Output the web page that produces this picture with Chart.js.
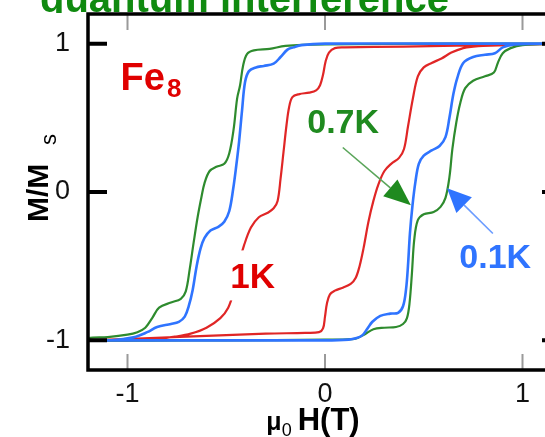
<!DOCTYPE html>
<html>
<head>
<meta charset="utf-8">
<script src="https://cdn.jsdelivr.net/npm/chart.js@4.4.0/dist/chart.umd.min.js"></script>
<style>
  html, body { margin: 0; padding: 0; background: #fff; overflow: hidden; }
  #wrap { width: 545px; height: 437px; overflow: hidden; }
  canvas { display: block; }
</style>
</head>
<body>
<div id="wrap"><canvas id="loopChart" width="565" height="437"></canvas></div>
<script>
// Fe8 hysteresis loops: field mu0H (T) vs normalised magnetisation M/Ms
const tickValues = [-1, 0, 1];

// 0.1 K (blue)
const blueDownH = [1.2, 0.6, 0.0, -0.12, -0.16, -0.19, -0.225, -0.26, -0.31, -0.35, -0.385, -0.405, -0.42, -0.435, -0.45, -0.465, -0.485, -0.51, -0.54, -0.58, -0.61, -0.63, -0.65, -0.67, -0.69, -0.71, -0.74, -0.78, -0.85, -0.9, -0.97, -1.08, -1.2];
const blueDownM = [1.0, 1.0, 1.0, 0.99, 0.975, 0.96, 0.91, 0.865, 0.85, 0.84, 0.815, 0.74, 0.55, 0.34, 0.17, 0.02, -0.13, -0.2, -0.235, -0.26, -0.31, -0.38, -0.5, -0.66, -0.77, -0.84, -0.875, -0.89, -0.91, -0.945, -0.98, -1.0, -1.0];
const blueUpH = [-1.2, -0.5, 0.0, 0.12, 0.16, 0.19, 0.215, 0.24, 0.28, 0.33, 0.37, 0.395, 0.41, 0.42, 0.43, 0.443, 0.458, 0.475, 0.5, 0.54, 0.58, 0.61, 0.63, 0.65, 0.67, 0.70, 0.75, 0.81, 0.86, 0.9, 0.96, 1.2];
const blueUpM = [-1.0, -1.0, -1.0, -0.995, -0.985, -0.965, -0.92, -0.875, -0.835, -0.82, -0.815, -0.77, -0.66, -0.5, -0.28, -0.09, 0.07, 0.19, 0.245, 0.28, 0.31, 0.37, 0.5, 0.66, 0.77, 0.87, 0.91, 0.925, 0.935, 0.975, 0.995, 1.0];

// 0.7 K (green)
const greenDownH = [1.2, 0.6, 0.0, -0.2, -0.28, -0.36, -0.395, -0.415, -0.43, -0.445, -0.463, -0.485, -0.51, -0.55, -0.585, -0.61, -0.625, -0.645, -0.665, -0.685, -0.705, -0.73, -0.78, -0.84, -0.875, -0.91, -0.95, -1.0, -1.1, -1.2];
const greenDownM = [1.0, 1.0, 0.995, 0.985, 0.965, 0.955, 0.93, 0.85, 0.72, 0.63, 0.42, 0.26, 0.19, 0.17, 0.14, 0.06, -0.03, -0.17, -0.34, -0.52, -0.67, -0.72, -0.745, -0.78, -0.85, -0.915, -0.945, -0.962, -0.978, -0.985];
const greenUpH = [-1.2, -0.5, 0.0, 0.15, 0.2, 0.245, 0.3, 0.36, 0.395, 0.415, 0.428, 0.44, 0.452, 0.47, 0.5, 0.55, 0.585, 0.61, 0.63, 0.645, 0.665, 0.685, 0.71, 0.75, 0.81, 0.855, 0.875, 0.9, 0.94, 1.0, 1.2];
const greenUpM = [-1.0, -1.0, -0.995, -0.99, -0.96, -0.925, -0.915, -0.91, -0.89, -0.85, -0.75, -0.55, -0.32, -0.19, -0.15, -0.135, -0.1, -0.04, 0.1, 0.29, 0.47, 0.6, 0.7, 0.75, 0.78, 0.805, 0.87, 0.935, 0.97, 0.99, 1.0];

// 1 K (red)
const redDownH = [1.2, 0.8, 0.4, 0.1, 0.05, 0.02, 0.003, -0.01, -0.025, -0.045, -0.08, -0.13, -0.165, -0.182, -0.195, -0.21, -0.225, -0.24, -0.26, -0.29, -0.335, -0.375, -0.41, -0.44, -0.465, -0.49, -0.53, -0.6, -0.68, -0.76, -0.85, -1.0, -1.2];
const redDownM = [1.0, 0.99, 0.98, 0.975, 0.97, 0.94, 0.88, 0.79, 0.72, 0.685, 0.67, 0.66, 0.64, 0.57, 0.45, 0.27, 0.09, -0.06, -0.11, -0.14, -0.17, -0.24, -0.36, -0.5, -0.68, -0.78, -0.85, -0.915, -0.955, -0.975, -0.99, -1.0, -1.0];
const redUpH = [-1.2, -0.7, -0.3, -0.1, -0.03, -0.01, 0.0, 0.01, 0.025, 0.05, 0.09, 0.13, 0.155, 0.175, 0.195, 0.22, 0.245, 0.27, 0.3, 0.335, 0.375, 0.4, 0.42, 0.445, 0.47, 0.5, 0.54, 0.59, 0.64, 0.7, 0.75, 0.8, 1.2];
const redUpM = [-1.0, -0.975, -0.955, -0.95, -0.945, -0.92, -0.84, -0.75, -0.69, -0.665, -0.645, -0.62, -0.58, -0.5, -0.38, -0.2, -0.06, 0.05, 0.14, 0.19, 0.23, 0.29, 0.44, 0.63, 0.78, 0.84, 0.87, 0.9, 0.94, 0.97, 0.98, 0.985, 1.0];

const BLUE = '#2f74ff';
const GREEN = '#2e8b2e';
const RED = '#e02626';
const FONT = "'Liberation Sans', Arial, sans-serif";

function loop(downH, downM, upH, upM) {
    const pts = [];
    downH.forEach((h, i) => pts.push({ x: h, y: downM[i] }));
    upH.forEach((h, i) => pts.push({ x: h, y: upM[i] }));
    return pts;
}

// labels and arrows placed in data units
const annotations = [
    { text: 'Fe', sub: '8', x: -1.035, y: 0.69, color: '#e00000', size: 38 },
    { text: '1K', x: -0.48, y: -0.65, color: '#e00000', size: 35, blank: true },
    { text: '0.7K', x: -0.09, y: 0.395, color: '#1f8a1f', size: 34 },
    { text: '0.1K', x: 0.68, y: -0.51, color: '#2f74ff', size: 34 }
];
const arrows = [
    { from: [0.09, 0.30], to: [0.435, -0.09], color: '#1f8a1f', line: '#5aa55a', head: 27, width: 22 },
    { from: [0.85, -0.28], to: [0.618, 0.025], color: '#2f74ff', line: '#6b9cff', head: 24, width: 22 }
];

const framePlugin = {
    id: 'frame',
    afterDatasetsDraw(chart) {
        const ctx = chart.ctx;
        const { left, right, top, bottom } = chart.chartArea;
        const xs = chart.scales.x, ys = chart.scales.y;
        ctx.save();
        // grey ticks top and bottom
        ctx.strokeStyle = '#9a9a9a';
        ctx.lineWidth = 2;
        tickValues.forEach(v => {
            const px = xs.getPixelForValue(v);
            ctx.beginPath();
            ctx.moveTo(px, bottom); ctx.lineTo(px, bottom - 16);
            ctx.moveTo(px, top); ctx.lineTo(px, top + 16);
            ctx.stroke();
        });
        // black ticks left and right
        ctx.strokeStyle = '#000';
        ctx.lineWidth = 4;
        tickValues.forEach(v => {
            const py = ys.getPixelForValue(v);
            ctx.beginPath();
            ctx.moveTo(left, py); ctx.lineTo(left + 19, py);
            ctx.moveTo(right - 20, py); ctx.lineTo(right, py);
            ctx.stroke();
        });
        // frame
        ctx.lineWidth = 3.5;
        ctx.beginPath();
        ctx.moveTo(right, top); ctx.lineTo(left, top);
        ctx.lineTo(left, bottom); ctx.lineTo(right, bottom);
        ctx.stroke();

        // annotations
        annotations.forEach(a => {
            const px = xs.getPixelForValue(a.x);
            const py = ys.getPixelForValue(a.y);
            ctx.font = 'bold ' + a.size + 'px ' + FONT;
            const w = ctx.measureText(a.text).width;
            if (a.blank) {
                ctx.fillStyle = '#fff';
                ctx.fillRect(px - 4, py - a.size - 3, w + 8, a.size + 15);
            }
            ctx.fillStyle = a.color;
            ctx.textBaseline = 'alphabetic';
            ctx.textAlign = 'left';
            ctx.fillText(a.text, px, py);
            if (a.sub) {
                ctx.font = 'bold ' + Math.round(a.size * 0.68) + 'px ' + FONT;
                ctx.fillText(a.sub, px + w + 2, py + 7);
            }
        });

        // arrows
        arrows.forEach(a => {
            const x0 = xs.getPixelForValue(a.from[0]), y0 = ys.getPixelForValue(a.from[1]);
            const x1 = xs.getPixelForValue(a.to[0]), y1 = ys.getPixelForValue(a.to[1]);
            const ang = Math.atan2(y1 - y0, x1 - x0);
            const bx = x1 - a.head * Math.cos(ang), by = y1 - a.head * Math.sin(ang);
            ctx.strokeStyle = a.line;
            ctx.lineWidth = 1.6;
            ctx.beginPath();
            ctx.moveTo(x0, y0); ctx.lineTo(bx, by);
            ctx.stroke();
            const nx = -Math.sin(ang) * a.width / 2, ny = Math.cos(ang) * a.width / 2;
            ctx.fillStyle = a.color;
            ctx.beginPath();
            ctx.moveTo(x1, y1);
            ctx.lineTo(bx + nx, by + ny);
            ctx.lineTo(bx - nx, by - ny);
            ctx.closePath();
            ctx.fill();
        });
        ctx.restore();
    },
    afterDraw(chart) {
        const ctx = chart.ctx;
        const { left, bottom, top } = chart.chartArea;
        const xs = chart.scales.x, ys = chart.scales.y;
        ctx.save();
        // cropped heading at the very top
        ctx.save();
        ctx.beginPath();
        ctx.rect(0, 0, chart.width, top - 1);
        ctx.clip();
        ctx.fillStyle = '#108a10';
        ctx.font = 'bold 40px ' + FONT;
        ctx.textBaseline = 'alphabetic';
        ctx.fillText('quantum interference', 40, 12);
        ctx.restore();

        // x title: mu0 H(T)
        ctx.fillStyle = '#000';
        ctx.textBaseline = 'alphabetic';
        const cx = xs.getPixelForValue(0) - 12;
        const base = bottom + 60;
        ctx.font = 'bold 31px ' + FONT;
        const wHT = ctx.measureText('H(T)').width;
        ctx.font = 'bold 25px ' + FONT;
        const wMu = ctx.measureText('\u03bc').width;
        ctx.font = '18px ' + FONT;
        const w0 = ctx.measureText('0').width;
        let x = cx - (wMu + w0 + 6 + wHT) / 2;
        ctx.font = 'bold 25px ' + FONT;
        ctx.fillText('\u03bc', x, base);
        x += wMu;
        ctx.font = '18px ' + FONT;
        ctx.fillText('0', x, base + 6);
        x += w0 + 6;
        ctx.font = 'bold 31px ' + FONT;
        ctx.fillText('H(T)', x, base);

        // y title: M/Ms rotated
        ctx.save();
        ctx.translate(left - 40, ys.getPixelForValue(0) + 30);
        ctx.rotate(-Math.PI / 2);
        ctx.font = 'bold 30px ' + FONT;
        ctx.fillText('M/M', 0, 0);
        ctx.font = '22px ' + FONT;
        ctx.fillText('s', 77, 8);
        ctx.restore();
        ctx.restore();
    }
};

const tickFont = { family: "'Liberation Sans Narrow', 'Liberation Sans', Arial, sans-serif", size: 27 };

new Chart(document.getElementById('loopChart'), {
    type: 'scatter',
    data: {
        datasets: [
            { label: '0.1K', data: loop(blueDownH, blueDownM, blueUpH, blueUpM), borderColor: BLUE, borderWidth: 2.6 },
            { label: '0.7K', data: loop(greenDownH, greenDownM, greenUpH, greenUpM), borderColor: GREEN, borderWidth: 2.2 },
            { label: '1K', data: loop(redDownH, redDownM, redUpH, redUpM), borderColor: RED, borderWidth: 2.2 }
        ]
    },
    options: {
        responsive: false,
        animation: false,
        events: [],
        showLine: true,
        layout: { padding: { top: 14, right: 3, left: 0, bottom: 0 } },
        elements: {
            point: { radius: 0 },
            line: { tension: 0.35, fill: false }
        },
        plugins: { legend: { display: false }, tooltip: { enabled: false } },
        scales: {
            x: {
                type: 'linear', min: -1.2, max: 1.2,
                afterBuildTicks: s => { s.ticks = tickValues.map(v => ({ value: v })); },
                afterFit: s => { s.height = 67; s.paddingLeft = 0; s.paddingRight = 0; },
                grid: { display: false, drawTicks: false },
                border: { display: false },
                ticks: { padding: 8, color: '#111', font: tickFont, maxRotation: 0 }
            },
            y: {
                type: 'linear', min: -1.2, max: 1.2,
                afterBuildTicks: s => { s.ticks = tickValues.map(v => ({ value: v })); },
                afterFit: s => { s.width = 88; s.paddingTop = 0; s.paddingBottom = 0; },
                grid: { display: false, drawTicks: false },
                border: { display: false },
                ticks: { padding: 18, color: '#111', font: tickFont }
            }
        }
    },
    plugins: [framePlugin]
});
</script>
</body>
</html>
